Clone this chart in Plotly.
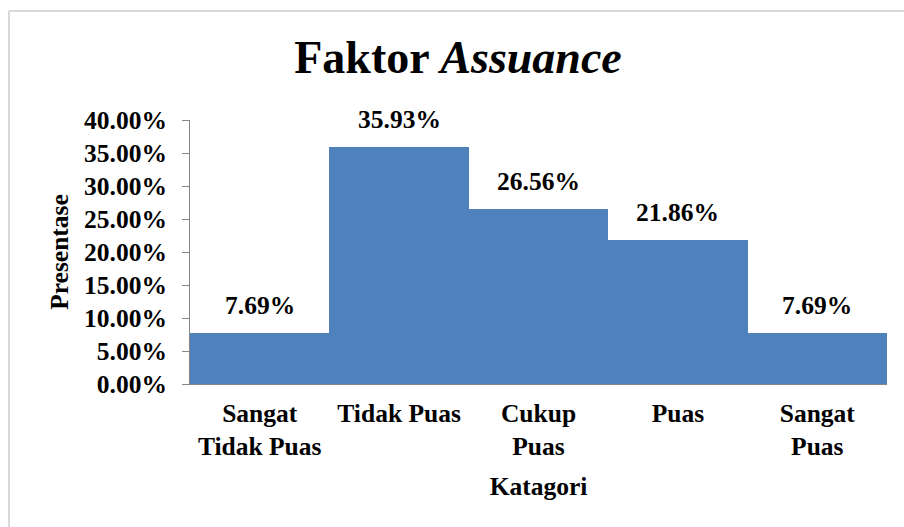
import plotly.graph_objects as go

categories = ["Sangat<br>Tidak Puas", "Tidak Puas", "Cukup<br>Puas", "Puas", "Sangat<br>Puas"]
values = [0.0769, 0.3593, 0.2656, 0.2186, 0.0769]
labels = ["7.69%", "35.93%", "26.56%", "21.86%", "7.69%"]

FONT = "Liberation Serif, Times New Roman, serif"
W, H = 904, 527
L, T = 190, 120
R = W - 887
B = H - 384
pw, ph = W - L - R, H - T - B

fig = go.Figure(go.Bar(x=categories, y=values, marker=dict(color="#4F81BD", line=dict(width=0)),
                       hoverinfo="skip"))

for c, v, t in zip(categories, values, labels):
    fig.add_annotation(x=c, y=v, text="<b>%s</b>" % t, showarrow=False, yanchor="bottom",
                       yshift=11, font=dict(family=FONT, size=25.5, color="black"))

fx0 = (9 - L) / pw
fy1 = 1 + (T - 11) / ph
fig.add_shape(type="line", xref="paper", yref="paper", x0=fx0, x1=1.5, y0=fy1, y1=fy1,
              line=dict(color="#d9d9d9", width=2), layer="below")
fig.add_shape(type="line", xref="paper", yref="paper", x0=fx0, x1=fx0, y0=-1.5, y1=fy1,
              line=dict(color="#d9d9d9", width=2), layer="below")

fig.update_layout(
    width=W, height=H,
    margin=dict(l=L, r=R, t=T, b=B, pad=0),
    paper_bgcolor="white", plot_bgcolor="white",
    bargap=0, showlegend=False,
    font=dict(family=FONT, color="black"),
    title=dict(text="<b>Faktor <i>Assuance</i></b>", font=dict(family=FONT, size=46, color="black"),
               xref="container", x=458 / W, xanchor="center",
               yref="container", y=1 - 57 / H, yanchor="middle"),
    xaxis=dict(showline=True, linecolor="#868686", linewidth=1, ticks="", showgrid=False,
               tickfont=dict(family=FONT, size=25.5, color="black", weight="bold"),
               ticklabelstandoff=6,
               title=dict(text="<b>Katagori</b>", font=dict(family=FONT, size=25.5, color="black"), standoff=17)),
    yaxis=dict(range=[0, 0.4], dtick=0.05, tickformat=".2%", showline=True, linecolor="#868686",
               linewidth=1, ticks="outside", ticklen=7, tickcolor="#868686", showgrid=False,
               zeroline=False, ticklabelstandoff=10,
               tickfont=dict(family=FONT, size=25.5, color="black", weight="bold"),
               title=dict(text="<b>Presentase</b>", font=dict(family=FONT, size=25.5, color="black"), standoff=8)),
)

fig.write_html("out.html", config={"displayModeBar": False},
               post_script="document.body.style.margin='0';document.body.style.overflow='hidden';")
